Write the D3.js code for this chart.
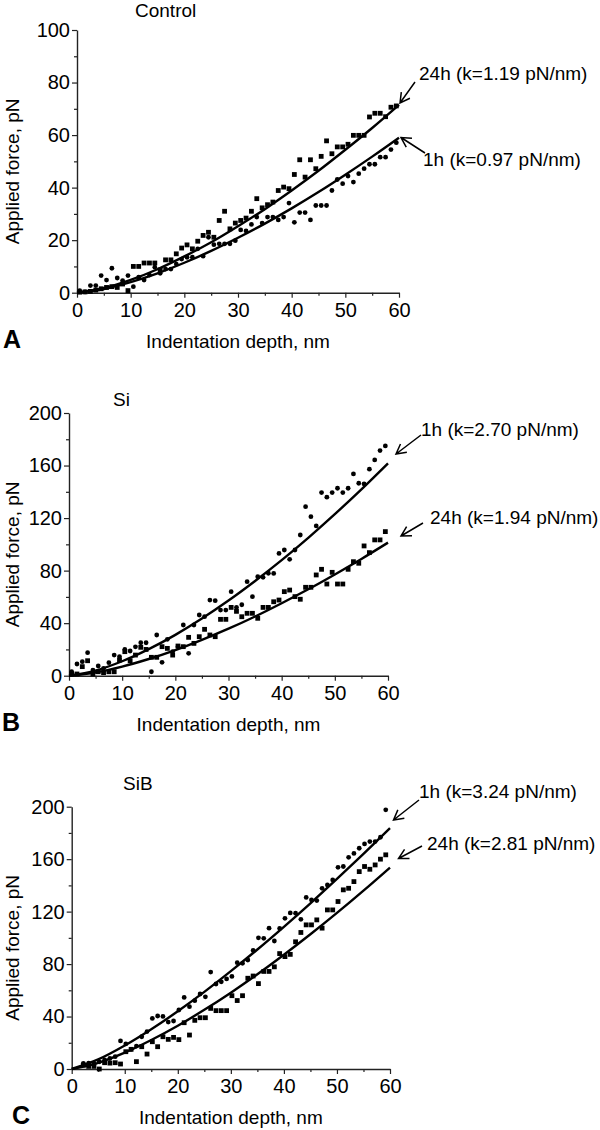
<!DOCTYPE html>
<html><head><meta charset="utf-8">
<script src="https://cdn.jsdelivr.net/npm/d3@7"></script>
<style>body{margin:0;background:#fff}svg{display:block}text{font-family:"Liberation Sans",Arial,sans-serif;fill:#000}</style>
</head><body><svg id="c" width="600" height="1130"></svg>
<script>
// ---------- DATA ----------
const xTicks=[0,10,20,30,40,50,60];
const xMinor=[5,15,25,35,45,55];
const yTicksA=[0,20,40,60,80,100];
const yMinorA=[10,30,50,70,90];
const yTicksBC=[0,40,80,120,160,200];
const yMinorBC=[20,60,100,140,180];
const titles=["Control","Si","SiB"];
const panelLetters=["A","B","C"];
const xTitle="Indentation depth, nm";
const yTitle="Applied force, pN";

const depthAB=[0.5,1.5,2.5,3.5,4.5,5.5,6.5,7.5,8.5,9.5,10.5,11.5,12.5,13.5,14.5,15.5,16.5,17.5,18.5,19.5,20.5,21.5,22.5,23.5,24.5,25.5,26.5,27.5,28.5,29.5,30.5,31.5,32.5,33.5,34.5,35.5,36.5,37.5,38.5,39.5,40.5,41.5,42.5,43.5,44.5,45.5,46.5,47.5,48.5,49.5,50.5,51.5,52.5,53.5,54.5,55.5,56.5,57.5,58.5,59.5];
const depthC=[2.2,3.2,4.2,5.2,6.2,7.2,8.2,9.2,10.2,11.2,12.2,13.2,14.2,15.2,16.2,17.2,18.2,19.2,20.2,21.2,22.2,23.2,24.2,25.2,26.2,27.2,28.2,29.2,30.2,31.2,32.2,33.2,34.2,35.2,36.2,37.2,38.2,39.2,40.2,41.2,42.2,43.2,44.2,45.2,46.2,47.2,48.2,49.2,50.2,51.2,52.2,53.2,54.2,55.2,56.2,57.2,58.2,59.2];

// Control
const ctrl24h=[0.2,0.3,0.5,1.0,1.5,2.0,2.3,2.0,3.3,0.8,10.0,10.0,11.3,11.3,11.3,8.7,12.5,12.5,14.8,17.0,18.2,16.7,19.6,21.8,23.0,21.1,27.5,31.0,24.3,26.5,27.5,28.4,31.0,35.8,32.3,33.5,34.5,38.9,40.2,39.6,45.0,50.6,44.0,50.6,47.2,51.9,57.8,52.9,55.5,55.5,56.5,59.9,59.9,59.9,66.9,68.3,68.3,67.0,70.6,71.1];
const ctrl1h=[0.8,0.3,2.7,2.7,6.5,4.8,9.3,5.6,4.6,6.5,2.3,5.9,4.8,6.7,9.7,7.4,9.0,9.0,10.9,12.8,13.5,13.5,16.7,13.9,21.1,18.3,18.6,18.6,18.6,19.8,23.9,23.5,26.0,28.8,26.5,28.8,28.8,27.7,28.8,34.1,26.8,30.5,30.5,27.7,33.2,33.2,33.2,38.9,43.1,41.5,44.4,42.1,45.3,47.2,48.9,48.9,51.6,51.6,54.5,57.1];
// Si
const si1h=[3.0,8.9,10.7,17.5,4.3,7.4,5.6,9.9,15.7,14.5,20.0,18.8,22.0,25.1,25.1,3.0,31.0,10.2,27.7,18.3,22.1,38.6,17.0,38.6,46.2,44.9,57.6,57.1,50.0,50.0,64.0,52.0,54.0,71.6,60.2,75.4,74.9,78.0,77.9,93.1,95.7,88.6,95.7,107.1,128.7,121.1,114.0,139.4,135.9,139.4,142.7,139.4,142.7,153.6,146.5,146.0,157.2,164.3,171.4,174.9];
const si24h=[1.3,1.3,6.9,11.4,1.3,3.0,2.3,3.0,3.0,11.9,18.3,11.4,15.7,21.6,20.0,14.0,14.0,22.1,20.8,15.7,22.6,22.1,29.2,24.6,29.7,35.3,31.0,29.7,42.9,42.9,52.0,49.0,44.9,47.5,47.5,43.7,52.0,52.0,56.3,57.6,64.0,65.2,60.2,58.2,67.3,67.3,76.7,81.0,69.8,78.7,69.8,69.8,81.0,86.8,85.6,98.8,93.7,103.4,103.4,109.7];
// SiB
const sib1h=[4.3,4.5,4.0,5.5,6.9,8.0,9.4,21.4,19.1,15.0,17.5,24.6,28.5,38.6,40.4,40.1,35.8,36.6,45.0,54.6,47.5,52.1,57.2,55.0,73.9,64.8,66.5,68.7,70.6,81.1,80.6,83.1,90.4,100.0,99.6,107.4,97.6,107.2,114.9,119.0,118.8,114.1,130.8,128.9,128.4,137.8,140.3,144.2,153.8,154.4,161.4,164.4,168.3,171.6,173.4,173.4,176.7,197.6];
const sib24h=[3.0,2.0,2.0,0.0,4.8,4.5,4.8,3.8,13.2,15.0,5.6,17.0,11.4,20.8,17.0,24.6,22.6,24.1,22.4,35.3,25.9,37.1,39.1,39.1,46.2,44.5,44.5,44.5,55.9,52.2,55.9,69.2,70.9,65.1,74.4,74.4,77.9,88.0,85.7,87.4,97.0,104.1,109.9,109.9,113.7,107.4,121.3,121.3,127.7,136.6,137.8,142.9,150.5,154.4,152.3,155.6,160.0,163.3];

// fitted curves
const fitDepth=[0,5,10,15,20,25,30,35,40,45,50,55,60];
const fitCtrl24h=[0,1.72,4.86,8.93,13.8,19.2,25.3,31.8,38.9,46.4,54.4,62.7,71.5];
const fitCtrl1h=[0,1.42,4.02,7.38,11.4,15.9,20.9,26.3,32.1,38.3,44.9,51.8,59.0];
const fitSi1h=[0,3.89,11.0,20.2,31.1,43.5,57.2,72.1,88.0,105.0,123.0,141.9,161.7];
const fitSi24h=[0,2.44,6.89,12.7,19.5,27.3,35.8,45.1,55.2,65.8,77.1,88.9,101.3];
const fitSib1h=[0,7.3,17.9,30.3,44.0,58.8,74.6,91.1,108.4,126.3,144.9,164.0,183.6];
const fitSib24h=[0,4.7,12.5,22.1,33.0,45.1,58.2,72.2,87.1,102.7,119.0,136.0,153.6];

const annCtrl=["24h (k=1.19 pN/nm)","1h (k=0.97 pN/nm)"];
const annSi=["1h (k=2.70 pN/nm)","24h (k=1.94 pN/nm)"];
const annSib=["1h (k=3.24 pN/nm)","24h (k=2.81 pN/nm)"];

// ---------- LAYOUT ----------
const svg=d3.select("#c");
const panels=[
 {x0:77,x1:399,y0:292.7,y1:30,ymax:100,yt:yTicksA,ym:yMinorA,title:titles[0],titleX:135,titleY:17,letter:panelLetters[0],letterX:3,
  depth:[depthAB,depthAB],series:[ctrl24h,ctrl1h],shapes:["square","circle"],fits:[fitCtrl24h,fitCtrl1h],
  ann:[{t:annCtrl[0],tx:419,ty:80,ax:415,ay:82,bx:400,by:103},{t:annCtrl[1],tx:423,ty:166,ax:425,ay:153,bx:401,by:137.5}]},
 {x0:69,x1:388,y0:675.7,y1:413,ymax:200,yt:yTicksBC,ym:yMinorBC,title:titles[1],titleX:113,titleY:406,letter:panelLetters[1],letterX:2,
  depth:[depthAB,depthAB],series:[si1h,si24h],shapes:["circle","square"],fits:[fitSi1h,fitSi24h],
  ann:[{t:annSi[0],tx:421,ty:436,ax:421,ay:435,bx:396,by:454},{t:annSi[1],tx:430,ty:524,ax:423,ay:523,bx:401,by:536}]},
 {x0:71.7,x1:390,y0:1069,y1:806.7,ymax:200,yt:yTicksBC,ym:yMinorBC,title:titles[2],titleX:123,titleY:790,letter:panelLetters[2],letterX:12,
  depth:[depthC,depthC],series:[sib1h,sib24h],shapes:["circle","square"],fits:[fitSib1h,fitSib24h],
  ann:[{t:annSib[0],tx:419,ty:798,ax:419,ay:800,bx:393.5,by:820},{t:annSib[1],tx:427,ty:850,ax:422,ay:846,bx:398.5,by:858.5}]}
];

const axisColor="#222";
panels.forEach(p=>{
  const x=d3.scaleLinear().domain([0,60]).range([p.x0,p.x1]);
  const y=d3.scaleLinear().domain([0,p.ymax]).range([p.y0,p.y1]);
  const g=svg.append("g");

  // minor ticks
  g.append("g").attr("transform",`translate(0,${p.y0})`)
    .call(d3.axisBottom(x).tickValues(xMinor).tickSize(3).tickFormat(""))
    .call(a=>a.select(".domain").remove());
  g.append("g").attr("transform",`translate(${p.x0},0)`)
    .call(d3.axisLeft(y).tickValues(p.ym).tickSize(3).tickFormat(""))
    .call(a=>a.select(".domain").remove());
  // major axes
  const xa=g.append("g").attr("transform",`translate(0,${p.y0})`)
    .call(d3.axisBottom(x).tickValues(xTicks).tickSize(5).tickSizeOuter(0).tickPadding(5).tickFormat(d3.format("d")));
  const ya=g.append("g").attr("transform",`translate(${p.x0},0)`)
    .call(d3.axisLeft(y).tickValues(p.yt).tickSize(5).tickSizeOuter(0).tickPadding(2).tickFormat(d3.format("d")));
  g.selectAll(".tick line").attr("stroke",axisColor).attr("stroke-width",1.2);
  g.selectAll(".domain").attr("stroke",axisColor).attr("stroke-width",1.4);
  [xa,ya].forEach(a=>a.selectAll("text").attr("font-size",20).attr("font-family","Liberation Sans, Arial, sans-serif").attr("fill","#000"));

  // fit curves
  const line=d3.line().x(d=>x(d[0])).y(d=>y(d[1])).curve(d3.curveCatmullRom.alpha(0.5));
  p.fits.forEach(f=>{
    g.append("path").attr("d",line(fitDepth.map((d,i)=>[d,f[i]])))
     .attr("fill","none").attr("stroke","#000").attr("stroke-width",2.4);
  });

  // points
  p.series.forEach((s,si)=>{
    const dep=p.depth[si];
    const pts=s.map((v,i)=>[dep[i],v]);
    if(p.shapes[si]==="circle"){
      g.append("g").selectAll("circle").data(pts).join("circle")
        .attr("cx",d=>x(d[0])).attr("cy",d=>y(d[1])).attr("r",2.4).attr("fill","#000");
    } else {
      g.append("g").selectAll("rect").data(pts).join("rect")
        .attr("x",d=>x(d[0])-2.4).attr("y",d=>y(d[1])-2.4).attr("width",4.8).attr("height",4.8).attr("fill","#000");
    }
  });

  // titles
  g.append("text").attr("x",p.titleX).attr("y",p.titleY).attr("font-size",19).text(p.title);
  g.append("text").attr("x",(p.x0+p.x1)/2).attr("y",p.y0+55).attr("text-anchor","middle").attr("font-size",19).text(xTitle);
  g.append("text").attr("transform",`translate(18.5,${(p.y0+p.y1)/2+10}) rotate(-90)`).attr("text-anchor","middle").attr("font-size",19).text(yTitle);
  g.append("text").attr("x",p.letterX).attr("y",p.y0+55).attr("font-size",25).attr("font-weight","bold").text(p.letter);

  // annotations with arrows
  p.ann.forEach(a=>{
    g.append("text").attr("x",a.tx).attr("y",a.ty).attr("font-size",19).text(a.t);
    const ang=Math.atan2(a.ay-a.by,a.ax-a.bx), L=11, h=0.5;
    const p1=[a.bx+L*Math.cos(ang+h),a.by+L*Math.sin(ang+h)];
    const p2=[a.bx+L*Math.cos(ang-h),a.by+L*Math.sin(ang-h)];
    g.append("path").attr("d",`M${a.ax},${a.ay}L${a.bx},${a.by}M${p1[0]},${p1[1]}L${a.bx},${a.by}L${p2[0]},${p2[1]}`)
     .attr("fill","none").attr("stroke","#000").attr("stroke-width",1.5);
  });
});
</script></body></html>
